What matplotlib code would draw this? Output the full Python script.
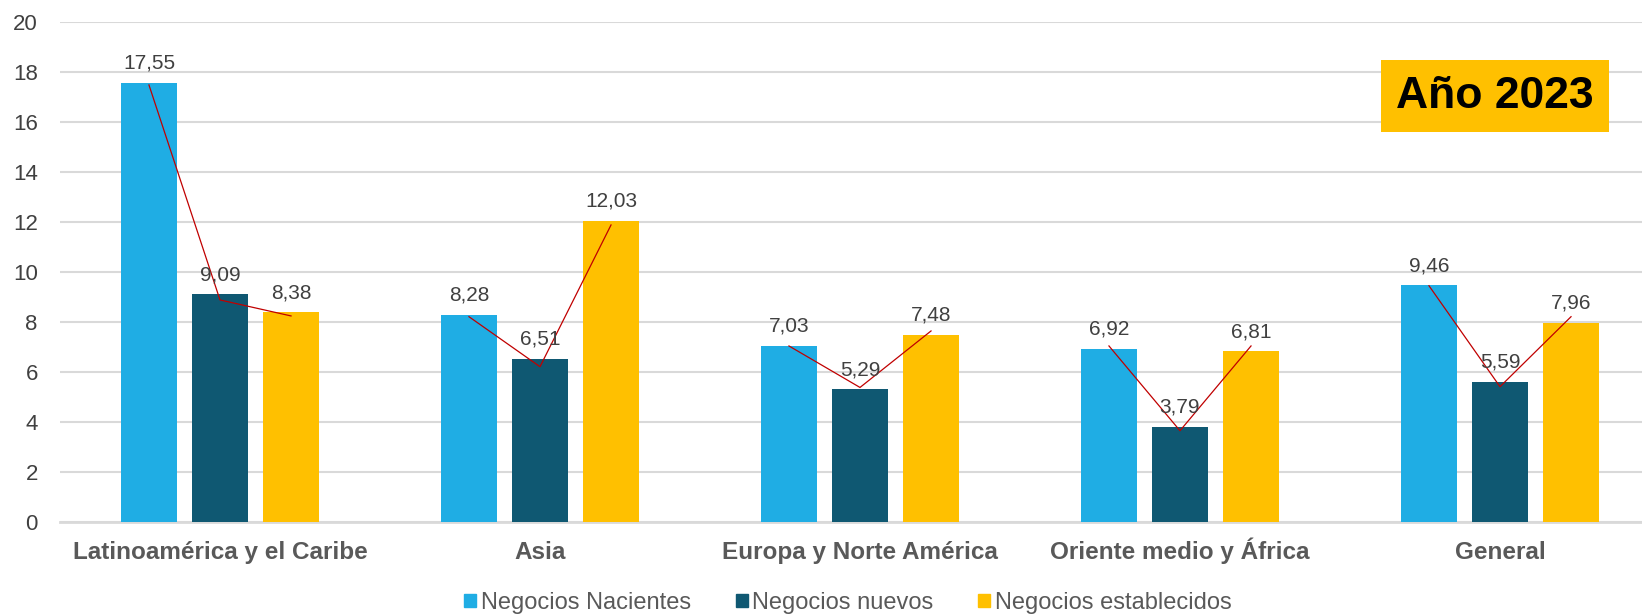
import matplotlib
matplotlib.use("Agg")
import matplotlib.pyplot as plt
from matplotlib.patches import Patch
import numpy as np

categories = ["Latinoamérica y el Caribe", "Asia", "Europa y Norte América",
              "Oriente medio y África", "General"]
series_names = ["Negocios Nacientes", "Negocios nuevos", "Negocios establecidos"]
nacientes = [17.55, 8.28, 7.03, 6.92, 9.46]
nuevos = [9.09, 6.51, 5.29, 3.79, 5.59]
establecidos = [8.38, 12.03, 7.48, 6.81, 7.96]
labels = [["17,55", "8,28", "7,03", "6,92", "9,46"],
          ["9,09", "6,51", "5,29", "3,79", "5,59"],
          ["8,38", "12,03", "7,48", "6,81", "7,96"]]
# red connector line values (per group)
line_nacientes = [17.47, 8.20, 7.03, 7.03, 9.44]
line_nuevos = [8.87, 6.20, 5.37, 3.64, 5.40]
line_establecidos = [8.23, 11.87, 7.63, 7.03, 8.20]
yticks = [0, 2, 4, 6, 8, 10, 12, 14, 16, 18, 20]
title_text = "Año 2023"

colors = ["#1FADE4", "#0F5872", "#FFC000"]
W, H = 1642, 614
fig = plt.figure(figsize=(W / 100, H / 100), dpi=100)
ax = fig.add_axes([60 / W, 1 - 521.7 / H, (W - 60) / W, 500 / H])

sans = ["Liberation Sans", "DejaVu Sans"]

x = np.arange(len(categories))
bw = 0.175
step = 0.222
series = [nacientes, nuevos, establecidos]
for i, vals in enumerate(series):
    pos = x + (i - 1) * step
    ax.bar(pos, vals, width=bw, color=colors[i], zorder=3)
    for p, v, lab in zip(pos, vals, labels[i]):
        ax.annotate(lab, (p, v), xytext=(0, 14), textcoords="offset pixels",
                    ha="center", va="baseline", fontsize=15, color="#404040",
                    family=sans, zorder=5)

# red connector lines within each group
for g in range(len(categories)):
    xs = [g - step, g, g + step]
    ys = [line_nacientes[g], line_nuevos[g], line_establecidos[g]]
    ax.plot(xs, ys, color="#C00000", lw=0.9, zorder=4)

ax.set_ylim(0, 20)
ax.set_xlim(-0.5, 4.5 - (1660 - W) / 320.2)
ax.set_yticks(yticks)
ax.set_yticklabels([str(t) for t in yticks], fontsize=16, color="#404040", family=sans)
ax.yaxis.grid(True, color="#D9D9D9", lw=1.5, zorder=0)
ax.set_axisbelow(True)
ax.tick_params(axis="y", length=0, pad=16)
ax.tick_params(axis="x", length=0, pad=27)
ax.set_xticks(x)
ax.set_xticklabels(categories, fontsize=17.5, fontweight="bold", color="#595959", family=sans)
for lab in ax.get_xticklabels():
    lab.set_verticalalignment("baseline")
for s in ["top", "right", "left"]:
    ax.spines[s].set_visible(False)
ax.spines["bottom"].set_color("#D9D9D9")
ax.spines["bottom"].set_linewidth(2)

# Year box
fig.text((1380 + 1610) / 2 / W, 1 - 96 / H, title_text, ha="center", va="center",
         fontsize=32, fontweight="bold", color="black", family=sans,
         bbox=dict(boxstyle="square,pad=0.35", fc="#FFC000", ec="none"))

handles = [Patch(color=c) for c in colors]
fig.legend(handles, series_names, loc="center", bbox_to_anchor=(848 / W, 1 - 603 / H),
           ncol=3, frameon=False, prop={"family": sans, "size": 17},
           labelcolor="#595959", handlelength=0.5, handleheight=0.5,
           handletextpad=0.2, columnspacing=1.9, borderpad=0, borderaxespad=0)

fig.savefig("out.png", dpi=100)
